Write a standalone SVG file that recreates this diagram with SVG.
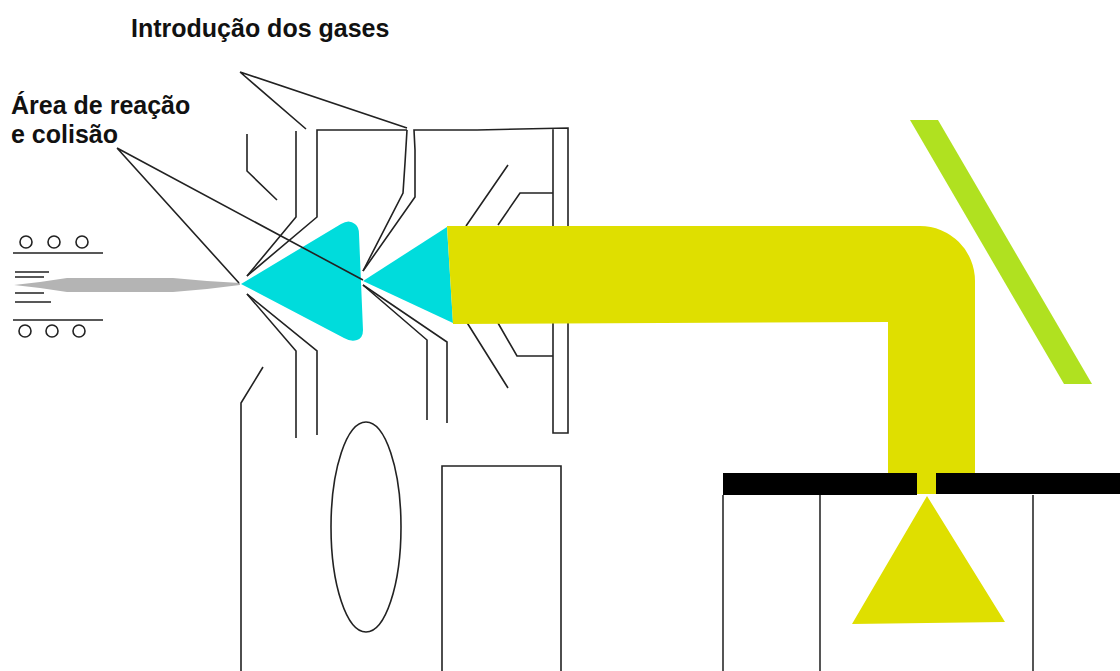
<svg xmlns="http://www.w3.org/2000/svg" width="1120" height="671" viewBox="0 0 1120 671">
<style>
.l{fill:none;stroke:#222;stroke-width:1.6;stroke-linejoin:miter}
.g{fill:none;stroke:#444;stroke-width:1.8}
.t{font-family:"Liberation Sans",Arial,sans-serif;font-weight:bold;font-size:25px;fill:#111}
.c{fill:#00dcdc}
.y{fill:#dfdf00}
</style>
<rect width="1120" height="671" fill="#fff"/>
<g id="plume"><path d="M14 285L40 282L67 278L173 278L207 281L240 283L240 285L207 289L173 292L67 292L40 288Z" fill="#b4b4b4"/></g>
<g id="source" class="l">
<path d="M13 253H103M13 320H103M15 272H49M15 277H44M15 293H44M15 302H51"/>
<circle cx="26" cy="242" r="6"/><circle cx="54" cy="242" r="6"/><circle cx="82" cy="242" r="6"/>
<circle cx="25" cy="331" r="6"/><circle cx="52" cy="331" r="6"/><circle cx="79" cy="331" r="6"/>
</g>
<g id="walls" class="l">
<path d="M247 134V171L277 200"/>
<path d="M263 367L241 403V671"/>
<path d="M296 131V217L247 276"/>
<path d="M407 130H317V217L247 276"/>
<path d="M363 271L403 193L405 163L407 130"/>
<path d="M363 271L415 197V150L414 130H477L568 128V433H553V128"/>
<path d="M508 165L466 226M553 193H520L498 225"/>
<path d="M498 323L517 356H553M466 321L508 388"/>
<path d="M363 285L427 340V420"/>
<path d="M363 285L447 342V423"/>
<path d="M247 294L296 351V438"/>
<path d="M247 294L317 351V435"/>
<path d="M240 72L306 129M240 72L407 128"/>
<ellipse cx="366" cy="527" rx="35" ry="105"/>
<path d="M442 671V466H561V671"/>
</g>
<g id="cones">
<path class="c" d="M241 284L341 224Q349 219 355 224Q359 227 359 234L363 330Q363 338 357 340Q351 342 344 338Z"/>
<path class="c" d="M363 281L447 227L453 323Z"/>
</g>
<g id="beam"><path class="y" d="M447 226H920A55 55 0 0 1 975 281V474H888V322L453 324Z"/></g>
<g id="mirror"><path d="M910 120H938L1092 384H1064Z" fill="#b0e120"/></g>
<g id="connectors" class="l"><path d="M117 148L239 283M117 148L363 280"/></g>
<g id="detector">
<path d="M723 473H917V495H723ZM936 473H1120V494H936Z" fill="#000"/>
<rect class="y" x="917" y="473" width="19" height="21"/>
<path class="g" d="M723 495V671M820 495V671M1033 495V671"/>
<path class="y" d="M927 496L1005 622L927 623L852 624Z"/>
</g>
<g id="labels">
<text class="t" x="131" y="37">Introdução dos gases</text>
<text class="t" x="11" y="114">Área de reação</text>
<text class="t" x="11" y="143">e colisão</text>
</g>
</svg>
